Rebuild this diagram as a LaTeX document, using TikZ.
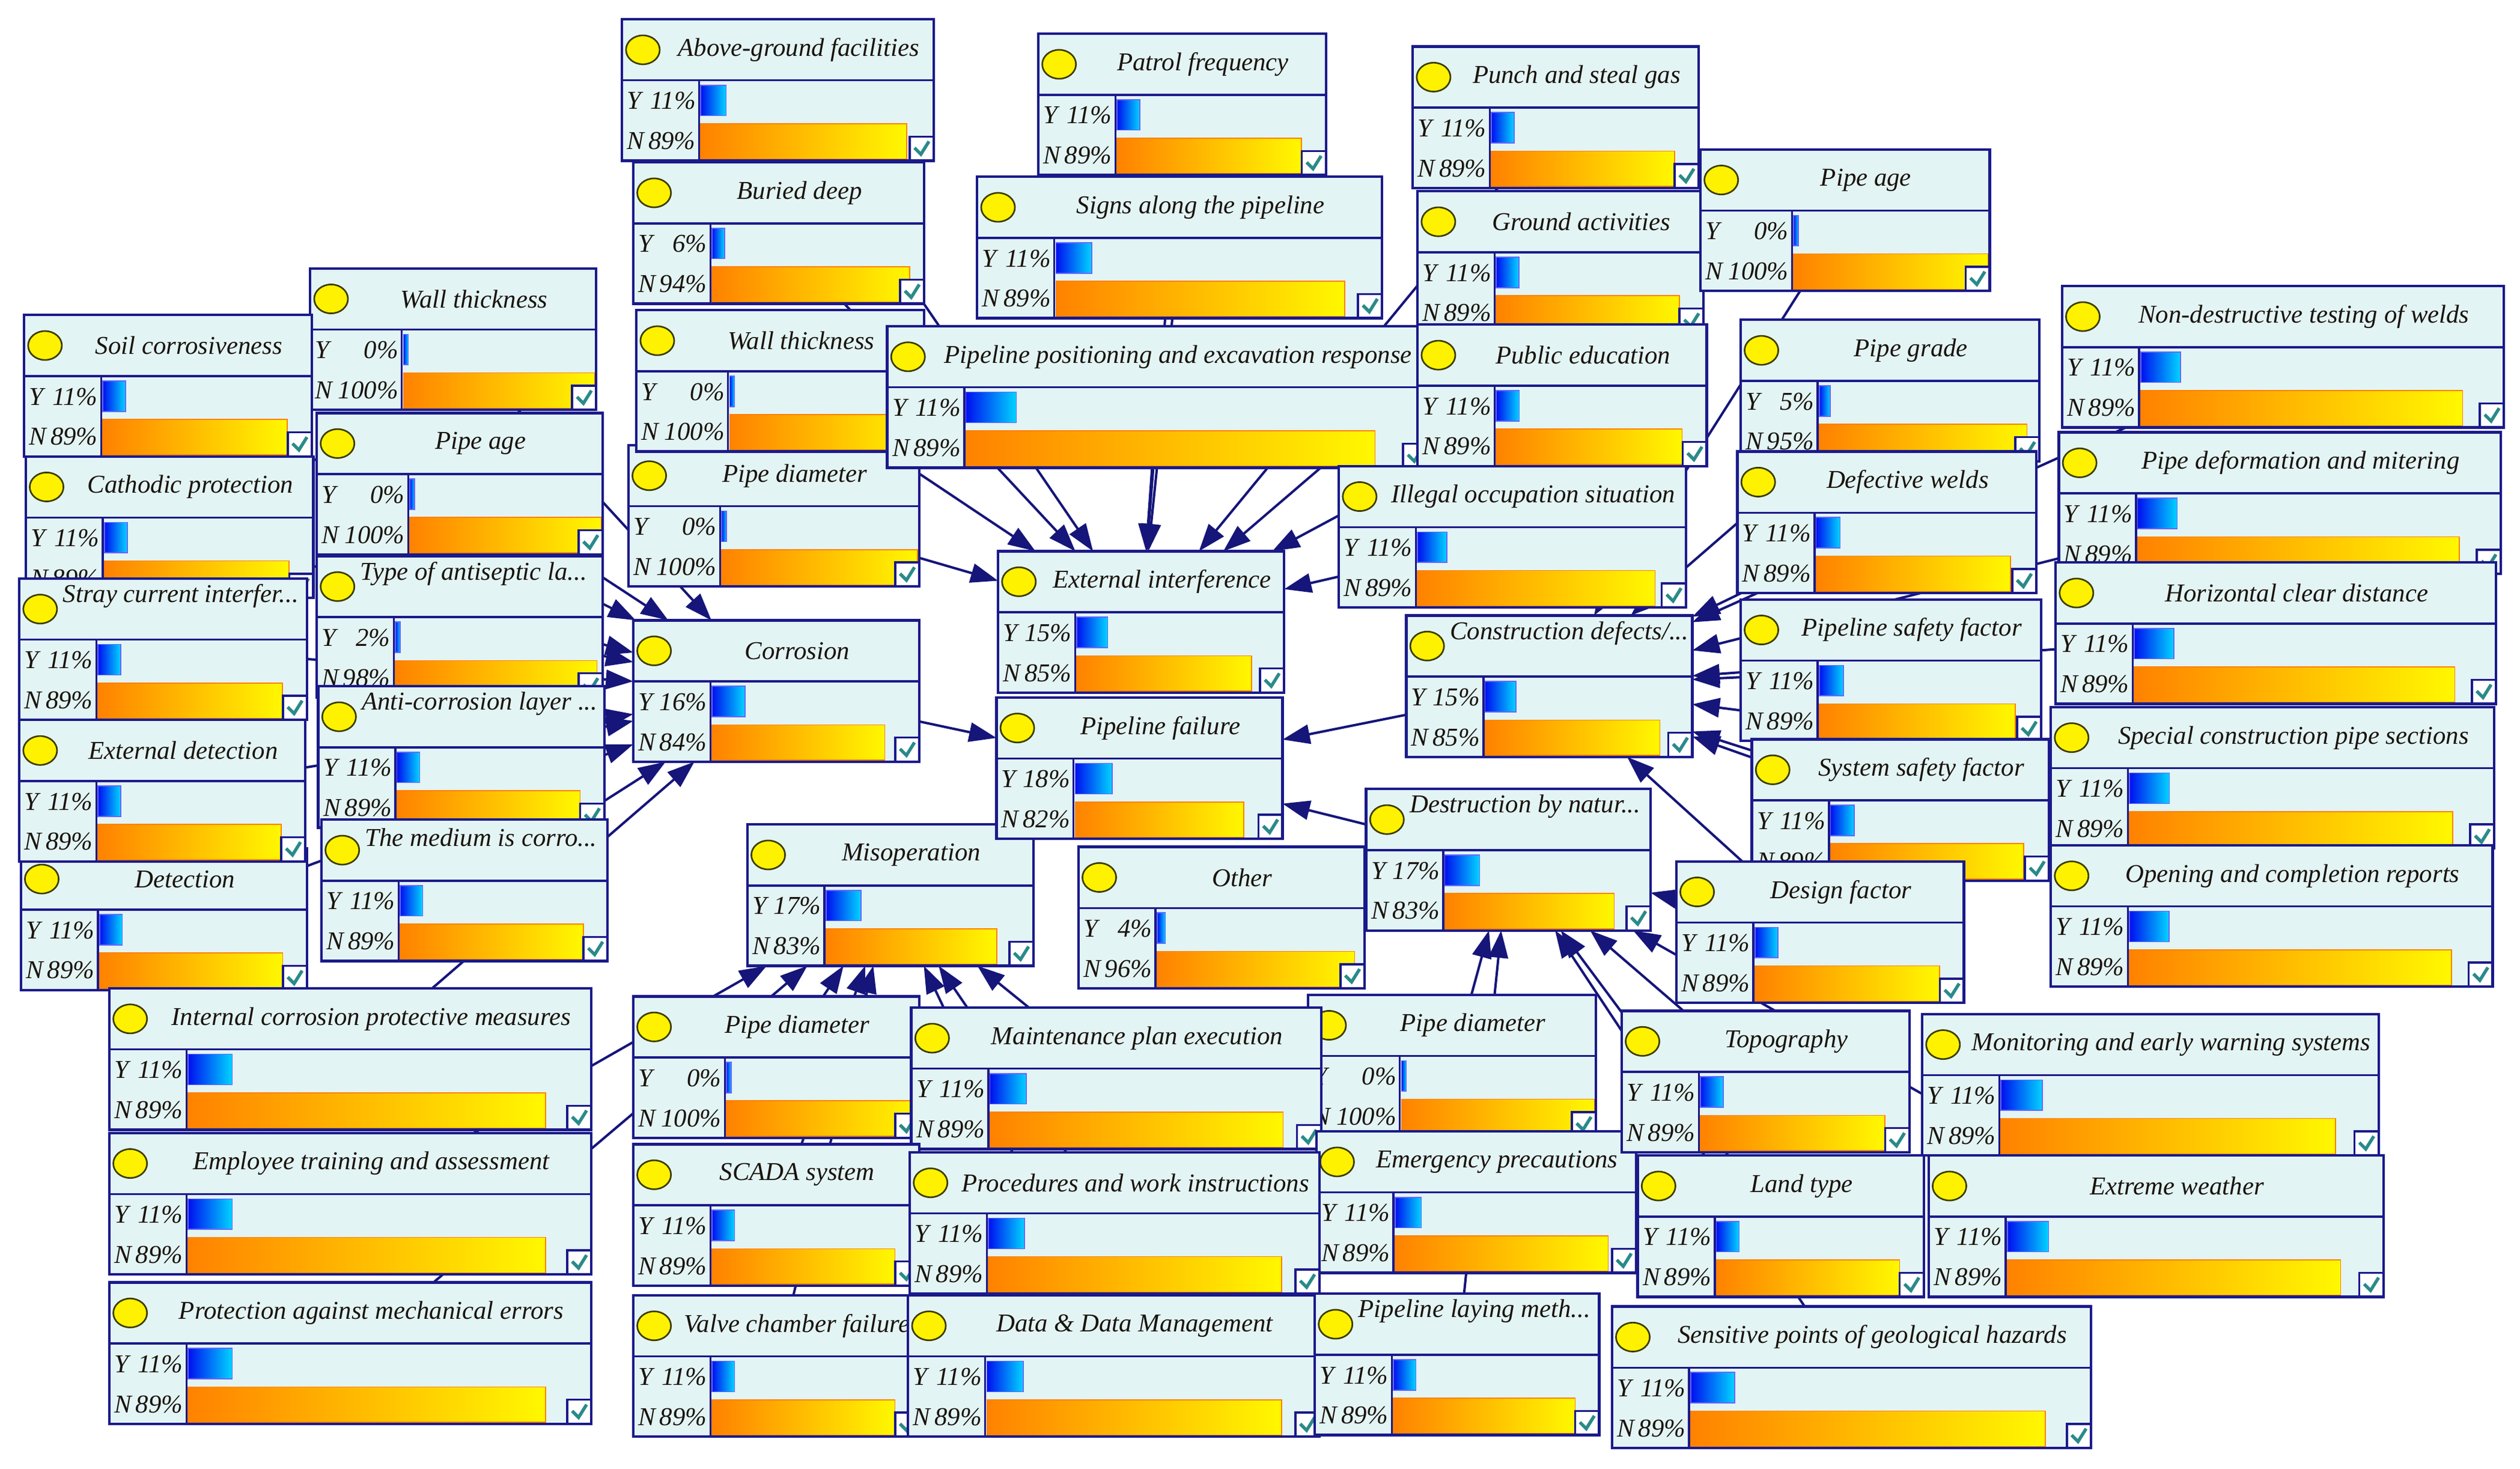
\documentclass[tikz,border=0pt]{standalone}
\usepackage{fontspec}
\setmainfont{Liberation Serif}
\usetikzlibrary{arrows.meta}
\definecolor{bnnavy}{HTML}{1A1A8A}
\definecolor{bnfill}{HTML}{E3F4F4}
\definecolor{bnink}{HTML}{1A140E}
\definecolor{bnteal}{HTML}{2A8A8A}
\definecolor{bnedge}{HTML}{15157A}
\definecolor{bnblue}{HTML}{0010F0}
\definecolor{bncyan}{HTML}{00D4FF}
\definecolor{bnorange}{HTML}{FF8200}
\definecolor{bnyellow}{HTML}{FFF800}
\definecolor{bnlamprim}{HTML}{3C3C00}
\pgfdeclarelayer{bg}
\pgfsetlayers{bg,main}
\tikzset{
  bnframe/.style={fill=bnfill, draw=none, inner sep=0pt, outer sep=0pt},
  bnrim/.style={draw=bnnavy, line width=1.6pt},
  bnline/.style={draw=bnnavy, line width=1.3pt},
  bnlamp/.style={fill=yellow, draw=bnlamprim, line width=1pt},
  bntitle/.style={font=\fontsize{16}{18}\selectfont\itshape, text=bnink, inner sep=0pt},
  bncut/.style={bntitle, anchor=west},
  bnlabel/.style={font=\fontsize{16}{18}\selectfont\itshape, text=bnink, inner sep=0pt},
  bnybar/.style={left color=bnblue, right color=bncyan, draw=blue!60!white, line width=0.6pt},
  bnnbar/.style={left color=bnorange, right color=bnyellow, draw=orange, line width=0.6pt},
  bncheck/.style={fill=white, draw=bnnavy, line width=1.3pt},
  bntick/.style={draw=bnteal, line width=2pt},
  bnarrow/.style={draw=bnedge, line width=1.5pt, -{Triangle[length=17pt,width=12pt]}},
}
\newcommand\bnnode[8]{%
  \pgfmathsetmacro\bnR{#3+#5}%
  \pgfmathsetmacro\bnB{#4+88}%
  \ifnum#8=100 \pgfmathsetmacro\bnC{#3+57}\else\pgfmathsetmacro\bnC{#3+48}\fi
  \pgfmathsetmacro\bnL{\bnR-\bnC-2}%
  \pgfmathsetmacro\bnYw{max(3,#7/100*\bnL)}%
  \pgfmathsetmacro\bnNw{#8/100*\bnL}%
  \pgfmathsetmacro\bnT{(#3+26+\bnR)/2}%
  \node[bnframe, anchor=north west, minimum width=#5, minimum height=88] (#2) at (#3,#4) {};
  \shadedraw[bnybar] (\bnC+1,#4+41) rectangle (\bnC+1+\bnYw,#4+60);
  \shadedraw[bnnbar] (\bnC+1,#4+65) rectangle (\bnC+1+\bnNw,#4+87);
  \draw[bnline] (#3,#4+38) -- (\bnR,#4+38);
  \draw[bnline] (\bnC,#4+38) -- (\bnC,\bnB);
  \draw[bncheck] (\bnR-15,\bnB-15) rectangle (\bnR,\bnB);
  \draw[bntick] (\bnR-12,\bnB-8) -- (\bnR-8,\bnB-4) -- (\bnR-3,\bnB-12);
  \draw[bnrim] (#3,#4) rectangle (\bnR,\bnB);
  \draw[bnlamp] (#3+13,#4+19) ellipse [x radius=10.5, y radius=9];
  \ifnum#1=1 \node[bncut] at (#3+27,#4+11) {#6};\else\node[bntitle] at (\bnT,#4+19) {#6};\fi
  \node[bnlabel, anchor=base west] at (#3+3,#4+56) {Y};
  \node[bnlabel, anchor=base east] at (\bnC-2,#4+56) {#7\%};
  \node[bnlabel, anchor=base west] at (#3+3,#4+81) {N};
  \node[bnlabel, anchor=base east] at (\bnC-2,#4+81) {#8\%};
}
\begin{document}
\begin{tikzpicture}[x=1pt, y=-1pt]
  \useasboundingbox (0,0) rectangle (1568,914);
  \bnnode{0}{ag}{387}{12}{194}{Above-ground facilities}{11}{89}
  \bnnode{0}{pfq}{646}{21}{179}{Patrol frequency}{11}{89}
  \bnnode{0}{ps}{879}{29}{178}{Punch and steal gas}{11}{89}
  \bnnode{0}{ga}{882}{119}{178}{Ground activities}{11}{89}
  \bnnode{0}{pa2}{1058}{93}{180}{Pipe age}{0}{100}
  \bnnode{0}{bd}{394}{101}{181}{Buried deep}{6}{94}
  \bnnode{0}{sap}{608}{110}{252}{Signs along the pipeline}{11}{89}
  \bnnode{0}{wt1}{193}{167}{178}{Wall thickness}{0}{100}
  \bnnode{0}{sc}{15}{196}{179}{Soil corrosiveness}{11}{89}
  \bnnode{0}{pd1}{391}{277}{181}{Pipe diameter}{0}{100}
  \bnnode{0}{wt2}{396}{193}{179}{Wall thickness}{0}{100}
  \bnnode{0}{pp}{552}{203}{336}{Pipeline positioning and excavation response}{11}{89}
  \bnnode{0}{pe}{882}{202}{180}{Public education}{11}{89}
  \bnnode{0}{pg}{1083}{199}{186}{Pipe grade}{5}{95}
  \bnnode{0}{ndt}{1283}{178}{275}{Non-destructive testing of welds}{11}{89}
  \bnnode{0}{pa1}{197}{257}{178}{Pipe age}{0}{100}
  \bnnode{0}{cp}{16}{284}{179}{Cathodic protection}{11}{89}
  \bnnode{0}{io}{833}{290}{216}{Illegal occupation situation}{11}{89}
  \bnnode{0}{dw}{1081}{281}{186}{Defective welds}{11}{89}
  \bnnode{0}{pdm}{1281}{269}{275}{Pipe deformation and mitering}{11}{89}
  \bnnode{1}{tal}{197}{346}{178}{Type of antiseptic la...}{2}{98}
  \bnnode{1}{sci}{12}{360}{179}{Stray current interfer...}{11}{89}
  \bnnode{0}{ei}{621}{343}{178}{External interference}{15}{85}
  \bnnode{0}{corr}{394}{386}{178}{Corrosion}{16}{84}
  \bnnode{1}{cd}{875}{383}{178}{Construction defects/...}{15}{85}
  \bnnode{0}{psf}{1083}{373}{187}{Pipeline safety factor}{11}{89}
  \bnnode{0}{hcd}{1279}{350}{274}{Horizontal clear distance}{11}{89}
  \bnnode{1}{acl}{198}{427}{178}{Anti-corrosion layer ...}{11}{89}
  \bnnode{0}{det}{13}{528}{178}{Detection}{11}{89}
  \bnnode{0}{ed}{12}{448}{178}{External detection}{11}{89}
  \bnnode{0}{mis}{465}{513}{178}{Misoperation}{17}{83}
  \bnnode{0}{pfl}{620}{434}{178}{Pipeline failure}{18}{82}
  \bnnode{0}{ssf}{1090}{460}{185}{System safety factor}{11}{89}
  \bnnode{0}{scp}{1276}{440}{276}{Special construction pipe sections}{11}{89}
  \bnnode{1}{dn}{850}{491}{177}{Destruction by natur...}{17}{83}
  \bnnode{1}{mc}{200}{510}{178}{The medium is corro...}{11}{89}
  \bnnode{0}{oth}{671}{527}{178}{Other}{4}{96}
  \bnnode{0}{df}{1043}{536}{179}{Design factor}{11}{89}
  \bnnode{0}{ocr}{1276}{526}{275}{Opening and completion reports}{11}{89}
  \bnnode{0}{icp}{68}{615}{300}{Internal corrosion protective measures}{11}{89}
  \bnnode{0}{pd3}{394}{620}{178}{Pipe diameter}{0}{100}
  \bnnode{0}{pd2}{814}{619}{179}{Pipe diameter}{0}{100}
  \bnnode{0}{mpe}{567}{627}{255}{Maintenance plan execution}{11}{89}
  \bnnode{0}{emp}{819}{704}{199}{Emergency precautions}{11}{89}
  \bnnode{0}{topo}{1009}{629}{179}{Topography}{11}{89}
  \bnnode{0}{mew}{1196}{631}{284}{Monitoring and early warning systems}{11}{89}
  \bnnode{0}{eta}{68}{705}{300}{Employee training and assessment}{11}{89}
  \bnnode{0}{scada}{394}{712}{178}{SCADA system}{11}{89}
  \bnnode{0}{pwi}{566}{717}{255}{Procedures and work instructions}{11}{89}
  \bnnode{0}{lt}{1019}{719}{178}{Land type}{11}{89}
  \bnnode{0}{ew}{1200}{719}{283}{Extreme weather}{11}{89}
  \bnnode{0}{pame}{68}{798}{300}{Protection against mechanical errors}{11}{89}
  \bnnode{0}{vcf}{394}{806}{178}{Valve chamber failure}{11}{89}
  \bnnode{0}{ddm}{565}{806}{256}{Data \& Data Management}{11}{89}
  \bnnode{1}{plm}{818}{805}{177}{Pipeline laying meth...}{11}{89}
  \bnnode{0}{spg}{1003}{813}{298}{Sensitive points of geological hazards}{11}{89}
  \begin{pgfonlayer}{bg}
    \fill[white] (0,0) rectangle (1568,914);
    \foreach \a in {wt2, bd, ag, pfq, sap, pp, ps, ga, pe, pd1, io}
      \draw[bnarrow] (\a) -- (ei);
    \foreach \a in {sc, cp, sci, ed, det, wt1, pa1, tal, acl, mc, icp}
      \draw[bnarrow] (\a) -- (corr);
    \foreach \a in {pa2, pg, dw, ndt, pdm, psf, hcd, scp, ssf, ocr, df}
      \draw[bnarrow] (\a) -- (cd);
    \foreach \a in {pd2, plm, topo, lt, spg, df, ew}
      \draw[bnarrow] (\a) -- (dn);
    \foreach \a in {eta, pame, pd3, scada, vcf, mpe, pwi, ddm}
      \draw[bnarrow] (\a) -- (mis);
    \foreach \a in {corr, cd, dn}
      \draw[bnarrow] (\a) -- (pfl);
  \end{pgfonlayer}
\end{tikzpicture}
\end{document}
